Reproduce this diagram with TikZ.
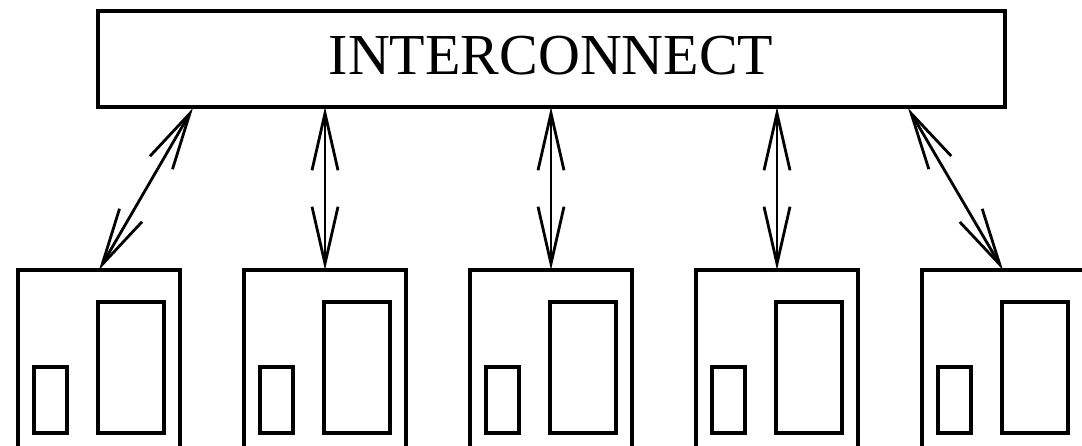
\documentclass[tikz,border=0pt]{standalone}
\usepackage{fontspec}
\setmainfont{Liberation Serif}
\usetikzlibrary{arrows.meta}
\begin{document}
\begin{tikzpicture}[x=1pt,y=-1pt,
  frame/.style={draw, line width=3.3pt, inner sep=0pt, outer sep=0pt},
  pebox/.style={frame, anchor=north west, minimum width=162pt, minimum height=200pt},
  membox/.style={frame, anchor=north west, minimum width=66pt, minimum height=131pt},
  cachebox/.style={frame, anchor=north west, minimum width=33pt, minimum height=66pt},
  link/.style={line width=2.8pt, {Straight Barb[length=57pt,width=26pt]}-{Straight Barb[length=57pt,width=26pt]}, shorten <=0pt, shorten >=0pt}]
\useasboundingbox (0,0) rectangle (1082,446);
\clip (0,0) rectangle (1082,446);
\node[frame, anchor=north west, minimum width=907pt, minimum height=96pt] (ic) at (98,11) {};
\node[anchor=base, font=\fontsize{58}{60}\selectfont] (lbl) at (551,75) {INTERCONNECT};
\foreach \i/\x in {1/18,2/244,3/470,4/696,5/922} {
  \node[pebox] (b\i) at (\x,270) {};
  \node[membox] (m\i) at (\x+80,302) {};
  \node[cachebox] (c\i) at (\x+16,367) {};
}
\coordinate (t1) at (193,108);
\coordinate (t5) at (908,108);
\draw[link] (t1) -- (b1.north);
\draw[link] (ic.south -| b2.north) -- (b2.north);
\draw[link] (ic.south -| b3.north) -- (b3.north);
\draw[link] (ic.south -| b4.north) -- (b4.north);
\draw[link] (t5) -- (b5.north);
\end{tikzpicture}
\end{document}
